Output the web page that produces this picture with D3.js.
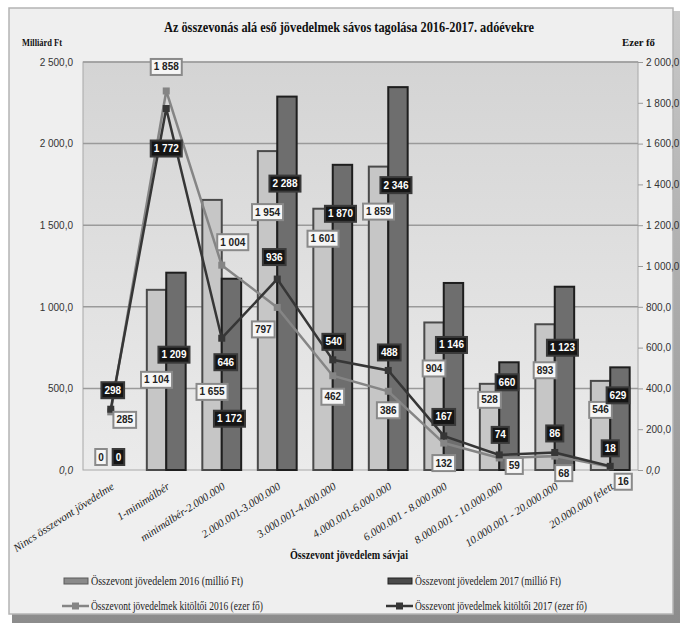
<!DOCTYPE html>
<html>
<head>
<meta charset="utf-8">
<script src="https://cdn.jsdelivr.net/npm/d3@7"></script>
<style>
  body { margin: 0; background: #ffffff; }
</style>
</head>
<body>
<svg id="chart"></svg>
<script>
// ---- data ----
var categories = ["Nincs összevont jövedelme", "1-minimálbér", "minimálbér-2.000.000",
  "2.000.001-3.000.000", "3.000.001-4.000.000", "4.000.001-6.000.000",
  "6.000.001 - 8.000.000", "8.000.001 - 10.000.000", "10.000.001 - 20.000.000",
  "20.000.000 felett"];
var income2016 = [0, 1104, 1655, 1954, 1601, 1859, 904, 528, 893, 546];
var income2017 = [0, 1209, 1172, 2288, 1870, 2346, 1146, 660, 1123, 629];
var filers2016 = [285, 1858, 1004, 797, 462, 386, 132, 59, 68, 16];
var filers2017 = [298, 1772, 646, 936, 540, 488, 167, 74, 86, 18];
var leftTicks = [0, 500, 1000, 1500, 2000, 2500];
var rightTicks = [0, 200, 400, 600, 800, 1000, 1200, 1400, 1600, 1800, 2000];
var legendNames = ["Összevont jövedelem 2016 (millió Ft)", "Összevont jövedelem 2017 (millió Ft)",
  "Összevont jövedelmek kitöltői 2016 (ezer fő)", "Összevont jövedelmek kitöltői 2017 (ezer fő)"];

// ---- label placement (pixel offsets from the marks) ----
var barLab16dy = [-13, 90, 192, 61, 30, 45, 46, 16, 46, 29];
var barLab17dy = [-13, 82, 140, 87, 49, 98, 62, 20, 61, 28];
var lineLab16 = [[14, 8], [0, -24], [11, -23], [-14, 22], [0, 21], [0, 19], [0, 20], [15, 8], [9, 17], [13, 15]];
var lineLab17 = [[2, -19], [0, 40], [4, 24], [-3, -22], [1, -18], [1, -18], [0, -19], [1, -20], [0, -19], [0, -18]];

var W = 687, H = 628;
var plot = {left: 83, right: 638, top: 62, bottom: 470};
var SERIF = "'Liberation Serif', 'Times New Roman', 'DejaVu Serif', serif";
var NARROW = "'Liberation Sans Narrow', 'Liberation Sans', sans-serif";

var svg = d3.select("#chart").attr("width", W).attr("height", H);

var locale = d3.formatLocale({decimal: ",", thousands: "\u00a0", grouping: [3], currency: ["", ""]});
var fmtAxis = locale.format(",.1f");
var fmtLab = locale.format(",d");

// gradients
var defs = svg.append("defs");
var pg = defs.append("linearGradient").attr("id", "plotbg").attr("x1", 0).attr("y1", 0).attr("x2", 0).attr("y2", 1);
pg.append("stop").attr("offset", "0%").attr("stop-color", "#d4d4d4");
pg.append("stop").attr("offset", "100%").attr("stop-color", "#ebebeb");
var sg = defs.append("linearGradient").attr("id", "shade").attr("x1", 0).attr("y1", 0).attr("x2", 0).attr("y2", 1);
sg.append("stop").attr("offset", "0%").attr("stop-color", "#c8c8c8");
sg.append("stop").attr("offset", "100%").attr("stop-color", "#8c8c8c");

// frame
svg.append("rect").attr("x", 12).attr("y", 11).attr("width", 668).attr("height", 612).attr("fill", "url(#shade)");
svg.append("rect").attr("x", 9).attr("y", 8).attr("width", 664).attr("height", 606)
  .attr("fill", "#efefef").attr("stroke", "#b4b4b4").attr("stroke-width", 1.5);

// scales
var x0 = d3.scaleBand().domain(categories).range([plot.left, plot.right]).paddingInner(0.3).paddingOuter(0.15);
var x1 = d3.scaleBand().domain(["2016", "2017"]).range([0, x0.bandwidth()]);
var yL = d3.scaleLinear().domain([0, 2500]).range([plot.bottom, plot.top]);
var yR = d3.scaleLinear().domain([0, 2000]).range([plot.bottom, plot.top]);
var cx = function(c) { return x0(c) + x0.bandwidth() / 2; };

// plot area
svg.append("rect").attr("x", plot.left).attr("y", plot.top)
  .attr("width", plot.right - plot.left).attr("height", plot.bottom - plot.top)
  .attr("fill", "url(#plotbg)").attr("stroke", "#a8a8a8").attr("stroke-width", 1);

// gridlines
svg.append("g").selectAll("line").data(leftTicks.slice(1)).enter().append("line")
  .attr("x1", plot.left).attr("x2", plot.right)
  .attr("y1", function(d) { return yL(d); }).attr("y2", function(d) { return yL(d); })
  .attr("stroke", "#9a9a9a").attr("stroke-width", 1.5);

// axes
var gL = svg.append("g").attr("transform", "translate(" + plot.left + ",0)")
  .call(d3.axisLeft(yL).tickValues(leftTicks).tickSize(0).tickPadding(10).tickFormat(fmtAxis));
var gR = svg.append("g").attr("transform", "translate(" + plot.right + ",0)")
  .call(d3.axisRight(yR).tickValues(rightTicks).tickSize(5).tickPadding(3).tickFormat(fmtAxis));
[gL, gR].forEach(function(g) {
  g.select(".domain").remove();
  g.selectAll(".tick line").attr("stroke", "#999");
  g.selectAll("text").style("font-family", NARROW).style("font-size", "10px").attr("fill", "#333");
});
gR.selectAll(".tick text").filter(function(d) { return d === 0; }).style("font-style", "italic");
gL.selectAll(".tick text").filter(function(d) { return d === 0; }).style("font-style", "italic");

// bars
var bars = svg.append("g");
function drawBars(values, key, fill, stroke) {
  bars.selectAll("rect.b" + key).data(values).enter().append("rect")
    .attr("class", "b" + key)
    .attr("x", function(d, i) { return x0(categories[i]) + x1(key); })
    .attr("y", function(d) { return yL(d); })
    .attr("width", x1.bandwidth())
    .attr("height", function(d) { return yL(0) - yL(d); })
    .attr("fill", fill).attr("stroke", stroke).attr("stroke-width", 2)
    .style("display", function(d) { return d > 0 ? null : "none"; });
}
drawBars(income2016, "2016", "#c6c6c6", "#4a4a4a");
drawBars(income2017, "2017", "#6e6e6e", "#1e1e1e");

// lines
function drawLine(values, color, msize) {
  var line = d3.line().x(function(d, i) { return cx(categories[i]); }).y(function(d) { return yR(d); });
  svg.append("path").datum(values).attr("d", line).attr("fill", "none")
    .attr("stroke", color).attr("stroke-width", 2.5);
  svg.append("g").selectAll("rect").data(values).enter().append("rect")
    .attr("x", function(d, i) { return cx(categories[i]) - msize / 2; })
    .attr("y", function(d) { return yR(d) - msize / 2; })
    .attr("width", msize).attr("height", msize).attr("fill", color);
}
drawLine(filers2016, "#858585", 7);
drawLine(filers2017, "#363636", 7);

// data labels
var labels = svg.append("g");
function addLabel(x, y, txt, dark) {
  var g = labels.append("g");
  var r = g.append("rect");
  var t = g.append("text").attr("x", x).attr("y", y).attr("dy", "0.35em")
    .attr("text-anchor", "middle")
    .style("font-family", NARROW).style("font-size", "10px").style("font-weight", "bold")
    .attr("fill", dark ? "#ffffff" : "#222222").text(txt);
  var w = t.node().getComputedTextLength() + 6;
  r.attr("x", x - w / 2).attr("y", y - 8).attr("width", w).attr("height", 16)
    .attr("fill", dark ? "#151515" : "#f6f6f6")
    .attr("stroke", dark ? "#3a3a3a" : "#8a8a8a").attr("stroke-width", 2);
}
income2016.forEach(function(d, i) {
  addLabel(x0(categories[i]) + x1("2016") + x1.bandwidth() / 2, yL(d) + barLab16dy[i], fmtLab(d), false);
});
income2017.forEach(function(d, i) {
  addLabel(x0(categories[i]) + x1("2017") + x1.bandwidth() / 2 - 2, yL(d) + barLab17dy[i], fmtLab(d), true);
});
filers2016.forEach(function(d, i) {
  addLabel(cx(categories[i]) + lineLab16[i][0], yR(d) + lineLab16[i][1], fmtLab(d), false);
});
filers2017.forEach(function(d, i) {
  addLabel(cx(categories[i]) + lineLab17[i][0], yR(d) + lineLab17[i][1], fmtLab(d), true);
});

// x category labels
svg.append("g").selectAll("text").data(categories).enter().append("text")
  .attr("transform", function(d) { return "translate(" + (cx(d) + 2) + ",485) rotate(-33)"; })
  .attr("text-anchor", "end").attr("dy", "0.35em")
  .style("font-family", SERIF).style("font-size", "11px").style("font-style", "italic").attr("fill", "#222")
  .text(function(d) { return d; });

// titles
svg.append("text").attr("x", 349).attr("y", 32).attr("text-anchor", "middle")
  .attr("textLength", 370).attr("lengthAdjust", "spacingAndGlyphs")
  .style("font-family", SERIF).style("font-size", "14px").style("font-weight", "bold").attr("fill", "#111")
  .text("Az összevonás alá eső jövedelmek sávos tagolása 2016-2017. adóévekre");
svg.append("text").attr("x", 22).attr("y", 46).attr("textLength", 40).attr("lengthAdjust", "spacingAndGlyphs")
  .style("font-family", SERIF).style("font-size", "10px").style("font-weight", "bold").attr("fill", "#111").text("Milliárd  Ft");
svg.append("text").attr("x", 622).attr("y", 46).attr("textLength", 33).attr("lengthAdjust", "spacingAndGlyphs")
  .style("font-family", SERIF).style("font-size", "10px").style("font-weight", "bold").attr("fill", "#111").text("Ezer fő");
svg.append("text").attr("x", 349).attr("y", 559).attr("text-anchor", "middle")
  .attr("textLength", 118).attr("lengthAdjust", "spacingAndGlyphs")
  .style("font-family", SERIF).style("font-size", "12px").style("font-weight", "bold").attr("fill", "#111")
  .text("Összevont jövedelem sávjai");

// legend
var legPos = [[62, 581], [386, 581], [62, 606], [386, 606]];
var legLen = [152, 146, 172, 172];
legendNames.forEach(function(name, i) {
  var p = legPos[i];
  var g = svg.append("g");
  if (i < 2) {
    g.append("rect").attr("x", p[0] + 2).attr("y", p[1] - 3).attr("width", 24).attr("height", 6)
      .attr("fill", i === 0 ? "#8a8a8a" : "#4a4a4a").attr("stroke", i === 0 ? "#5a5a5a" : "#222").attr("stroke-width", 1);
  } else {
    var col = i === 2 ? "#858585" : "#363636";
    g.append("line").attr("x1", p[0]).attr("x2", p[0] + 27).attr("y1", p[1]).attr("y2", p[1])
      .attr("stroke", col).attr("stroke-width", 2.5);
    g.append("rect").attr("x", p[0] + 10).attr("y", p[1] - 3.5).attr("width", 7).attr("height", 7).attr("fill", col);
  }
  g.append("text").attr("x", p[0] + 29).attr("y", p[1]).attr("dy", "0.35em")
    .attr("textLength", legLen[i]).attr("lengthAdjust", "spacingAndGlyphs")
    .style("font-family", SERIF).style("font-size", "12px").attr("fill", "#222").text(name);
});
</script>
</body>
</html>
